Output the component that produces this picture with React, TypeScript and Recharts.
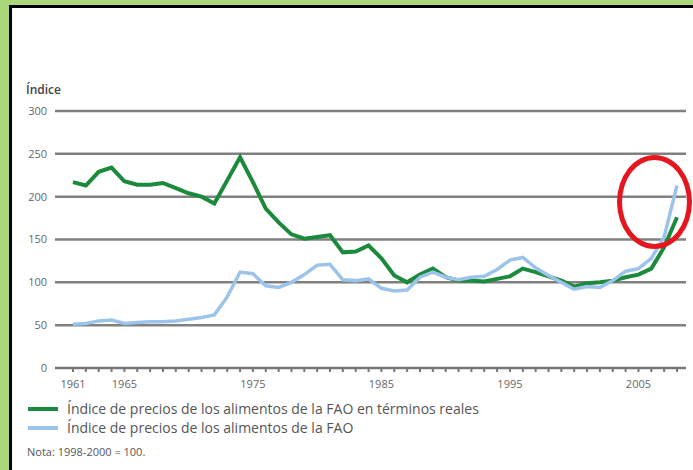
import { CartesianGrid, Legend, Line, LineChart, XAxis, YAxis } from "recharts"

const years = [
  1961, 1962, 1963, 1964, 1965, 1966, 1967, 1968, 1969, 1970, 1971, 1972, 1973, 1974, 1975, 1976,
  1977, 1978, 1979, 1980, 1981, 1982, 1983, 1984, 1985, 1986, 1987, 1988, 1989, 1990, 1991, 1992,
  1993, 1994, 1995, 1996, 1997, 1998, 1999, 2000, 2001, 2002, 2003, 2004, 2005, 2006, 2007, 2008,
]

// Índice en términos reales (verde)
const realIndex = [
  217, 213, 229, 234, 218, 214, 214, 216, 210, 204, 200, 192, 219, 246, 217, 186,
  170, 156, 151, 153, 155, 135, 136, 143, 128, 108, 100, 109, 116, 106, 102, 102,
  101, 104, 107, 116, 112, 107, 102, 95, 99, 100, 102, 106, 109, 116, 141, 176,
]

// Índice nominal (azul)
const nominalIndex = [
  51, 52, 55, 56, 52, 53, 54, 54, 55, 57, 59, 62, 83, 112, 110, 96,
  94, 100, 109, 120, 121, 103, 102, 104, 93, 90, 91, 106, 112, 106, 103, 106,
  107, 115, 126, 129, 117, 108, 100, 92, 95, 94, 102, 113, 116, 128, 153, 213,
]

const yTicks = [0, 50, 100, 150, 200, 250, 300]
const labelYears = [1961, 1965, 1975, 1985, 1995, 2005]

const realLabel = "Índice de precios de los alimentos de la FAO en términos reales"
const nominalLabel = "Índice de precios de los alimentos de la FAO"
const legendOrder = ["real", "nominal"]

const data = years.map((year, i) => ({
  year,
  real: realIndex[i],
  nominal: nominalIndex[i],
}))

const font = "'Open Sans', 'DejaVu Sans', sans-serif"

function LegendRows({ payload }: any) {
  const items = [...(payload || [])].sort(
    (a: any, b: any) => legendOrder.indexOf(a.dataKey) - legendOrder.indexOf(b.dataKey)
  )
  return (
    <div style={{ fontFamily: font, fontSize: 14, color: "#555" }}>
      {items.map((p: any) => (
        <div key={p.value} style={{ display: "flex", alignItems: "center", height: 19 }}>
          <span
            style={{
              display: "inline-block",
              width: 30,
              height: 4,
              background: p.color,
              marginRight: 9,
            }}
          />
          <span>{p.value}</span>
        </div>
      ))}
    </div>
  )
}

export default function App() {
  return (
    <div
      style={{
        position: "absolute",
        left: 0,
        top: 0,
        width: 693,
        height: 470,
        background: "#aad67c",
        overflow: "hidden",
      }}
    >
      <div
        style={{
          position: "absolute",
          left: 9,
          top: 5,
          right: 0,
          bottom: 0,
          background: "#fff",
          borderLeft: "3px solid #000",
          borderTop: "3px solid #000",
        }}
      />
      <div
        style={{
          position: "absolute",
          left: 26,
          top: 81,
          fontFamily: font,
          fontSize: 12,
          fontWeight: 600,
          color: "#444",
        }}
      >
        Índice
      </div>
      <div style={{ position: "absolute", left: 0, top: 0 }}>
        <LineChart
          width={693}
          height={470}
          data={data}
          margin={{ top: 111, right: 7, left: 5, bottom: 72 }}
        >
          <CartesianGrid vertical={false} stroke="#808080" strokeWidth={2.5} />
          <XAxis
            dataKey="year"
            type="number"
            domain={[1959.6, 2008.7]}
            ticks={years}
            interval={0}
            height={30}
            tickSize={4}
            tickMargin={8}
            stroke="#777"
            strokeWidth={2}
            tick={{ fill: "#666", fontSize: 11, fontFamily: font }}
            tickFormatter={(v) => (labelYears.includes(v) ? String(v) : "")}
          />
          <YAxis
            domain={[0, 300]}
            ticks={yTicks}
            width={50}
            axisLine={false}
            tickLine={false}
            tick={{ fill: "#666", fontSize: 11, fontFamily: font }}
          />
          <Legend
            layout="vertical"
            align="center"
            verticalAlign="middle"
            wrapperStyle={{ left: 28, top: 399, width: 560 }}
            content={<LegendRows />}
          />
          <Line
            type="linear"
            dataKey="real"
            name={realLabel}
            stroke="#1b8a3c"
            strokeWidth={4}
            dot={false}
            isAnimationActive={false}
          />
          <Line
            type="linear"
            dataKey="nominal"
            name={nominalLabel}
            stroke="#9cc4ea"
            strokeWidth={3.5}
            dot={false}
            isAnimationActive={false}
          />
        </LineChart>
      </div>
      <div
        style={{
          position: "absolute",
          left: 27,
          top: 444,
          fontFamily: font,
          fontSize: 11,
          color: "#555",
        }}
      >
        Nota: 1998-2000 = 100.
      </div>
      <div
        style={{
          position: "absolute",
          left: 617,
          top: 155,
          width: 75,
          height: 94,
          boxSizing: "border-box",
          border: "5px solid #e5161d",
          borderRadius: "50%",
        }}
      />
    </div>
  )
}
